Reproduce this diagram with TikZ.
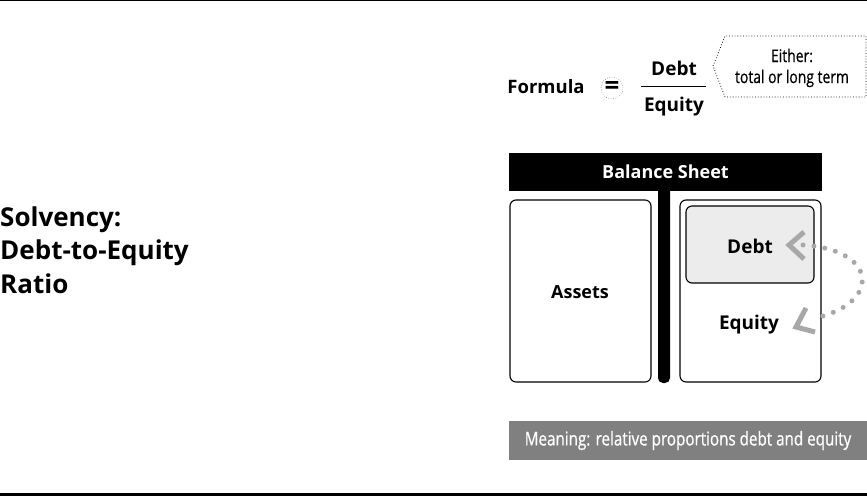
\documentclass[tikz,border=0pt]{standalone}
\usepackage{fontspec}
\setmainfont{Open Sans}
\newfontfamily\condfont[FakeStretch=0.8,FakeBold=0.6]{Open Sans}
\usetikzlibrary{calc}
\definecolor{debtfill}{HTML}{ECECEC}
\definecolor{arrowgray}{HTML}{A8A8A8}
\definecolor{meangray}{HTML}{808080}
\begin{document}
\begin{tikzpicture}[x=1pt,y=-1pt,
  lbl/.style={font=\bfseries\fontsize{19}{22}\selectfont, inner sep=0pt},
  panel/.style={draw, line width=1.1pt, rounded corners=6pt, inner sep=0pt},
  dotline/.style={draw=arrowgray, line width=5pt, line cap=round, dash pattern=on 0pt off 11pt},
  chev/.style={draw=arrowgray, line width=5pt, line join=miter}]
\useasboundingbox (0,0) rectangle (867,497);
% frame lines
\draw[line width=1.5pt] (0,0.75) -- (867,0.75);
\draw[line width=3pt] (0,494.5) -- (867,494.5);
% title
\node[anchor=west, align=left, inner sep=0pt, font=\bfseries\fontsize{26}{33.5}\selectfont] (title) at (0,250) {Solvency:\\Debt-to-Equity\\Ratio};
% formula
\node[lbl, font=\bfseries\fontsize{18.5}{22}\selectfont] (formula) at (546,87) {Formula};
\node[circle, draw, dotted, minimum size=22pt, inner sep=0pt, font=\bfseries\fontsize{26}{26}\selectfont] (eq) at (612,88) {=};
\node[lbl] (num) at (674,68) {Debt};
\node[lbl] (den) at (674,107) {Equity};
\draw[line width=1pt] (641,87) -- (706,87);
\draw[dotted, line width=0.8pt] (713,66) -- (725,36) -- (866,36) -- (866,97) -- (725,97) -- cycle;
\node[align=center, inner sep=0pt, font=\condfont\fontsize{17.4}{21}\selectfont] (note) at (792,68) {Either:\\total or long term};
% balance sheet
\fill[rounded corners=5pt] (658,180) rectangle (670,383);
\node[fill=black, text=white, minimum width=313pt, minimum height=38pt, inner sep=0pt, font=\bfseries\fontsize{18}{20}\selectfont] (bs) at (665.5,172) {Balance Sheet};
\node[panel, minimum width=141pt, minimum height=182pt] (assets) at (580.5,291) {};
\node[lbl, font=\bfseries\fontsize{18}{22}\selectfont] (assetslbl) at (580,292) {Assets};
\node[panel, minimum width=141pt, minimum height=182pt] (right) at (750.5,291) {};
\node[panel, fill=debtfill, minimum width=128pt, minimum height=77pt] (debt) at (750,244.5) {};
\node[lbl] (debtlbl) at (750,246) {Debt};
\node[lbl] (equitylbl) at (749,325) {Equity};
% arrow
\coordinate (a0) at (803,245);
\coordinate (a1) at (815,318);
\draw[dotline] (a0) .. controls (880,250) and (880,304) .. (a1);
\draw[chev] ($(a0)+(1,-13)$) -- ($(a0)+(-14,0)$) -- ($(a0)+(1,14)$);
\draw[chev] (806,308) -- (796,327) -- (815,332);
% meaning
\node[fill=meangray, text=white, minimum width=358pt, minimum height=39pt, inner sep=0pt, font=\condfont\fontsize{19}{22}\selectfont] (meaning) at (688,440.5) {Meaning: relative proportions debt and equity};
\end{tikzpicture}
\end{document}
